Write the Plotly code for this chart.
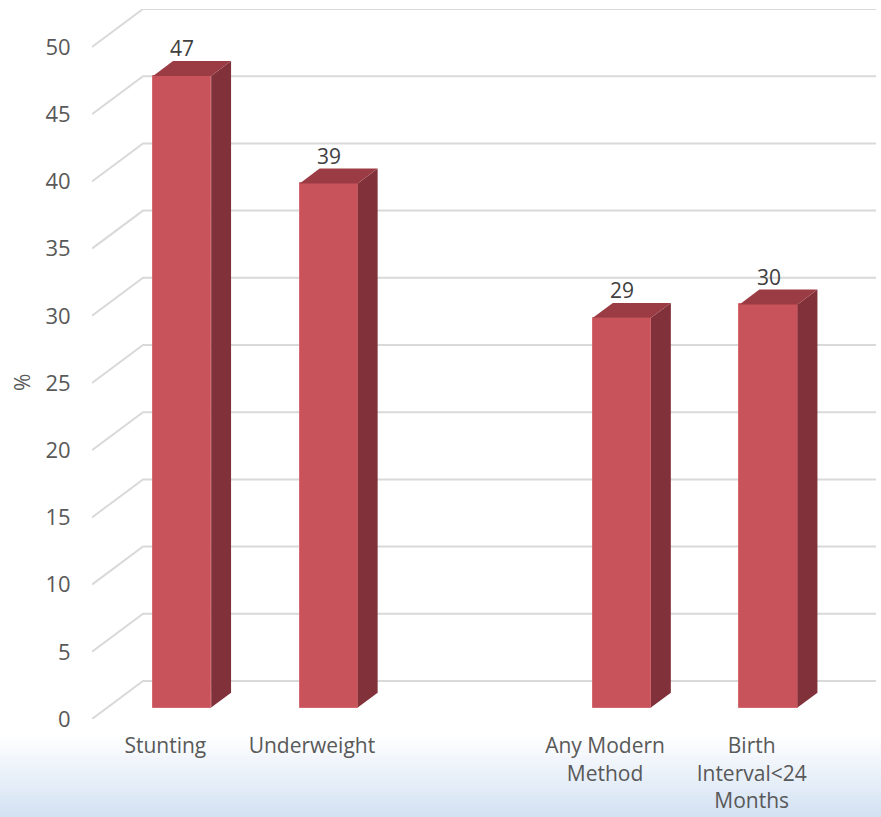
import plotly.graph_objects as go

# ---- data ----
categories = ["Stunting", "Underweight", "Any Modern<br>Method", "Birth<br>Interval<24<br>Months"]
slots = [0, 1, 3, 4]          # slot 2 is an empty category
values = [47, 39, 29, 30]
y_ticks = [0, 5, 10, 15, 20, 25, 30, 35, 40, 45, 50]

# ---- 3D projection settings ----
DX = 0.348        # depth offset in slot units (full floor depth)
DY = 2.83         # depth offset in value units (full floor depth)
D0X, D0Y = 0.33, 0.30   # bar front depth fraction (x / y)
DB = 0.39               # bar depth fraction
BW = 0.396        # bar width in slots
X_LO, X_HI = -0.5, 4.5
Y_TOP = 50

FRONT = "#C9535B"
SIDE = "#813139"
TOP = "#9B3C44"
GRID = "#D9D9D9"
FONT = "Open Sans"

fig = go.Figure()

# front faces
fig.add_trace(go.Bar(
    x=[s + D0X * DX for s in slots], y=values, base=[D0Y * DY] * len(values),
    width=BW, marker=dict(color=FRONT, line=dict(color="#D46870", width=1)),
    hoverinfo="skip", showlegend=False))

ddx = DB * DX
ddy = DB * DY
for s, v in zip(slots, values):
    xl = s + D0X * DX - BW / 2
    xr = s + D0X * DX + BW / 2
    yb = D0Y * DY
    yt = v + D0Y * DY
    # side face
    fig.add_trace(go.Scatter(
        x=[xr, xr + ddx, xr + ddx, xr, xr],
        y=[yb, yb + ddy, yt + ddy, yt, yb],
        fill="toself", fillcolor=SIDE, mode="lines", line=dict(width=0, color=SIDE),
        hoverinfo="skip", showlegend=False))
    # top face
    fig.add_trace(go.Scatter(
        x=[xl, xr, xr + ddx, xl + ddx, xl],
        y=[yt, yt, yt + ddy, yt + ddy, yt],
        fill="toself", fillcolor=TOP, mode="lines", line=dict(width=0, color=TOP),
        hoverinfo="skip", showlegend=False))

# data labels
annotations = []
for s, v in zip(slots, values):
    annotations.append(dict(
        x=s + D0X * DX, y=v + (D0Y + DB) * DY, text=str(v), showarrow=False,
        xanchor="center", yanchor="bottom", yshift=-3,
        font=dict(family=FONT, size=21, color="#404040")))

# y-axis title
annotations.append(dict(
    xref="paper", yref="y", x=0, y=25, xanchor="center", yanchor="middle",
    xshift=-70, text="%", textangle=-90,
    showarrow=False, font=dict(family=FONT, size=21, color="#595959")))

# background gradient strips at bottom (white -> light blue)
shapes = []
PLOT_TOP, PLOT_BOT = 9, 719
H = PLOT_BOT - PLOT_TOP
g_start, g_end = 735, 817
n = 40
c0 = (255, 255, 255)
c1 = (211, 225, 243)
for i in range(n):
    p0 = g_start + (g_end - g_start) * i / n
    p1 = g_start + (g_end - g_start) * (i + 1) / n + 0.5
    t = (i + 0.5) / n
    col = tuple(round(c0[k] + (c1[k] - c0[k]) * t) for k in range(3))
    shapes.append(dict(
        type="rect", xref="paper", yref="paper", x0=-0.2, x1=1.1,
        y0=(PLOT_BOT - p1) / H, y1=(PLOT_BOT - p0) / H,
        fillcolor="rgb(%d,%d,%d)" % col, line=dict(width=0), layer="below"))

# custom 3D gridlines (front diagonal + back wall horizontal), behind bars
for v in y_ticks:
    shapes.append(dict(
        type="path", xref="x", yref="y", layer="below",
        path="M %f,%f L %f,%f L %f,%f" % (X_LO, v, X_LO + DX, v + DY, X_HI + DX, v + DY),
        line=dict(color=GRID, width=2)))

fig.update_layout(
    width=881, height=817,
    margin=dict(l=92, r=881 - 876, t=PLOT_TOP, b=817 - PLOT_BOT, autoexpand=False),
    paper_bgcolor="white", plot_bgcolor="rgba(0,0,0,0)",
    showlegend=False, bargap=0,
    annotations=annotations, shapes=shapes,
    font=dict(family=FONT, size=21, color="#595959"),
    xaxis=dict(range=[X_LO, X_HI + DX], tickmode="array", tickvals=slots,
               ticktext=categories, showgrid=False, zeroline=False, showline=False,
               ticks="outside", ticklen=8, tickcolor="rgba(0,0,0,0)",
               tickfont=dict(family=FONT, size=21, color="#595959"),
               automargin=False, fixedrange=True),
    yaxis=dict(range=[0, Y_TOP + DY], tickmode="array", tickvals=y_ticks,
               showgrid=False, zeroline=False, showline=False,
               ticks="outside", ticklen=16, tickcolor="rgba(0,0,0,0)",
               tickfont=dict(family=FONT, size=22, color="#595959"),
               automargin=False, fixedrange=True),
)

fig.write_html("out.html")
